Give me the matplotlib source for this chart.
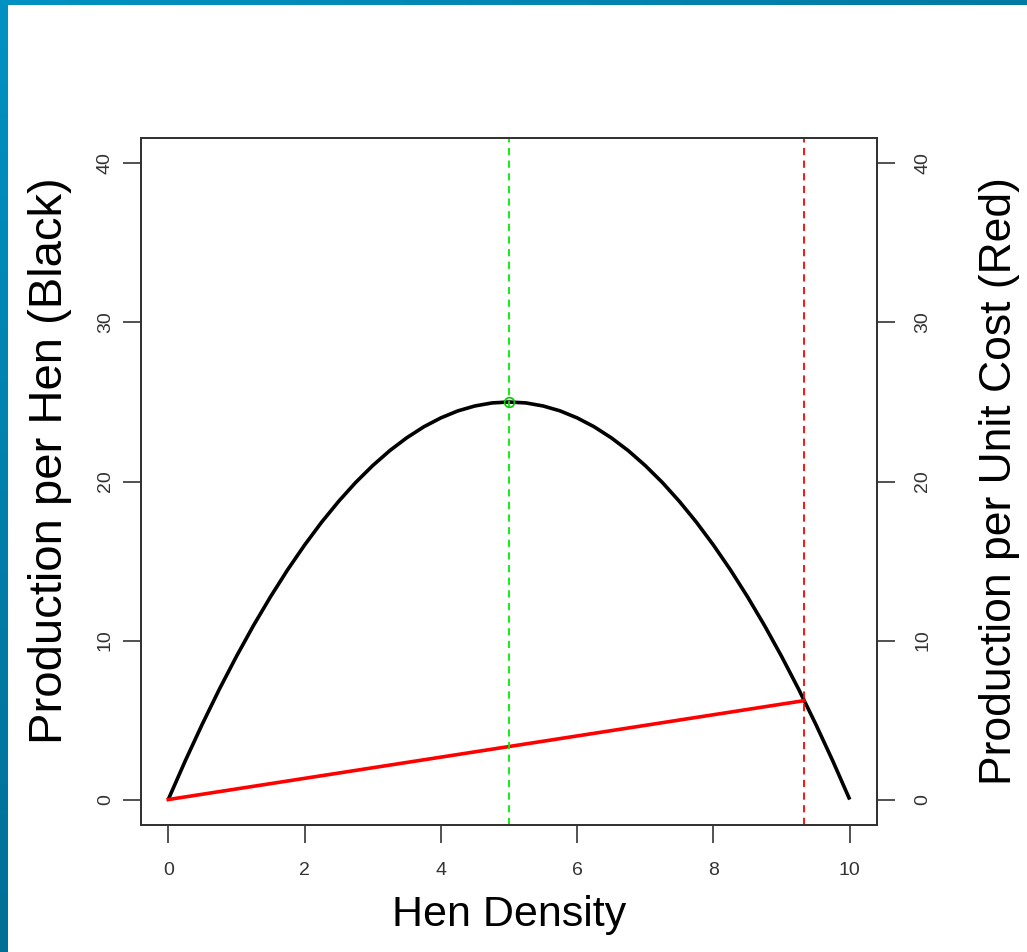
import matplotlib.pyplot as plt
import numpy as np
from matplotlib.colors import LinearSegmentedColormap

# production per hen
density = [0, 0.25, 0.5, 0.75, 1, 1.25, 1.5, 1.75, 2, 2.25, 2.5, 2.75, 3, 3.25, 3.5,
           3.75, 4, 4.25, 4.5, 4.75, 5, 5.25, 5.5, 5.75, 6, 6.25, 6.5, 6.75, 7, 7.25,
           7.5, 7.75, 8, 8.25, 8.5, 8.75, 9, 9.25, 9.5, 9.75, 10]
prod_hen = [0, 2.44, 4.75, 6.94, 9, 10.94, 12.75, 14.44, 16, 17.44, 18.75, 19.94, 21,
            21.94, 22.75, 23.44, 24, 24.44, 24.75, 24.94, 25, 24.94, 24.75, 24.44, 24,
            23.44, 22.75, 21.94, 21, 19.94, 18.75, 17.44, 16, 14.44, 12.75, 10.94, 9,
            6.94, 4.75, 2.44, 0]

# red line (production per unit cost)
cost_x = [0, 9.33]
cost_y = [0, 6.22]

peak_x, peak_y = 5, 25
best_cost_x = 9.33

yticks = [0, 10, 20, 30, 40]
xticks = [0, 2, 4, 6, 8, 10]

plt.rcParams['font.family'] = ['Liberation Sans', 'DejaVu Sans']

fig = plt.figure(figsize=(10.27, 9.52), dpi=100)

# blue slide border
W, H = 1027, 952
top = fig.add_axes([0, 1 - 5 / H, 1, 5 / H])
top.imshow(np.linspace(0, 1, 200).reshape(1, -1), aspect='auto',
           cmap=LinearSegmentedColormap.from_list('t', ['#0092c3', '#007aa2']))
top.axis('off')
left = fig.add_axes([0, 0, 8 / W, 1])
left.imshow(np.linspace(0, 1, 200).reshape(-1, 1), aspect='auto',
            cmap=LinearSegmentedColormap.from_list('l', ['#0092c3', '#006f97']))
left.axis('off')

ax = fig.add_axes([141 / W, 1 - 825 / H, (877 - 141) / W, (825 - 138) / H])
ax.plot(density, prod_hen, color='black', lw=2.6, solid_capstyle='butt')
ax.plot(cost_x, cost_y, color='#ff0000', lw=2.6)
ax.axvline(peak_x, color='#00ee00', lw=1.3, ls=(0, (4, 3)))
ax.axvline(best_cost_x, color='#ff0000', lw=1.3, ls=(0, (4, 3)))
ax.plot([peak_x], [peak_y], 'o', mfc='none', mec='#00cc00', ms=7, mew=1.2)

ax.set_xlim(-0.4, 10.4)
ax.set_ylim(-1.6, 41.6)
ax.set_xticks(xticks)
ax.set_yticks(yticks)
ax.set_yticklabels([str(v) for v in yticks], rotation=90, va='center')
ax.tick_params(length=13, width=1.2, color='#333333', labelsize=14, labelcolor='#333333')
ax.tick_params(axis='y', pad=6.6)
ax.tick_params(axis='x', pad=13.5)
for s in ax.spines.values():
    s.set_linewidth(1.4)
    s.set_color('#333333')

ax2 = ax.twinx()
ax2.set_ylim(-1.6, 41.6)
ax2.set_yticks(yticks)
ax2.set_yticklabels([str(v) for v in yticks], rotation=90, va='center')
ax2.tick_params(length=13, width=1.2, color='#333333', labelsize=14, labelcolor='#333333', pad=14)
for s in ax2.spines.values():
    s.set_linewidth(1.4)
    s.set_color('#333333')

ax.set_xlabel('Hen Density', fontsize=31, labelpad=12)
ax.set_ylabel('Production per Hen (Black)', fontsize=34, labelpad=18, y=0.531)
ax2.set_ylabel('Production per Unit Cost (Red)', fontsize=32, labelpad=34)

plt.savefig('out.png', dpi=100)
